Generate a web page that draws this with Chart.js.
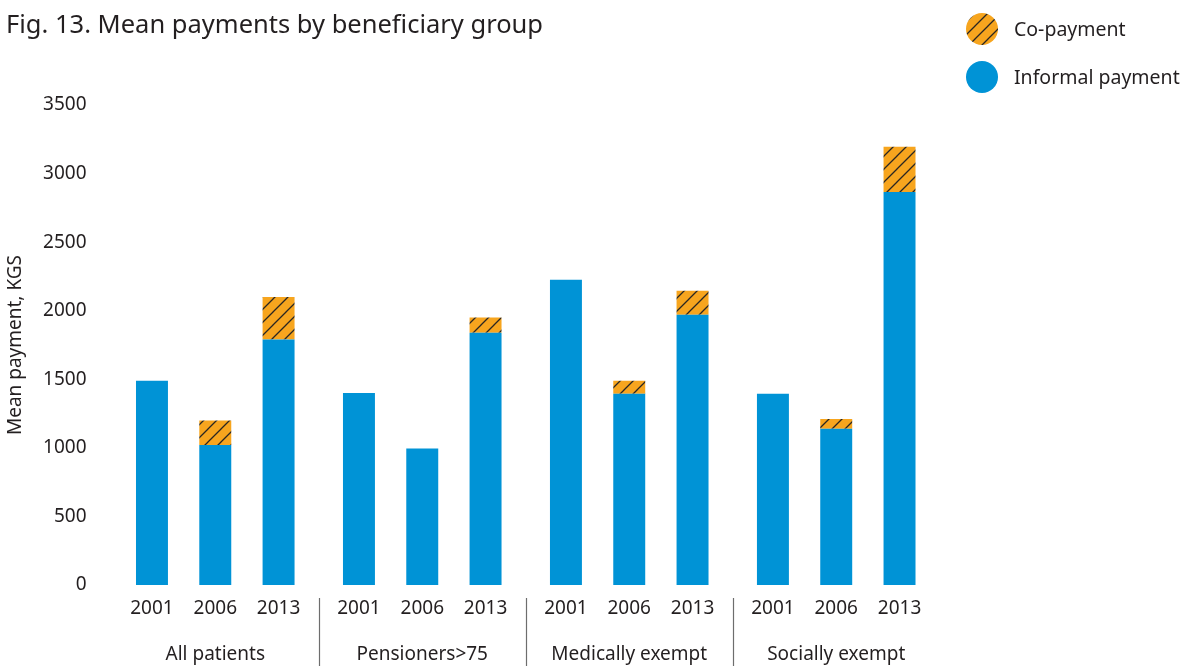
<!DOCTYPE html>
<html>
<head>
<meta charset="utf-8">
<script src="https://cdn.jsdelivr.net/npm/chart.js@4.4.0/dist/chart.umd.min.js"></script>
<style>
  html, body { margin: 0; padding: 0; background: #fff; }
  #wrap { width: 1181px; height: 666px; }
</style>
</head>
<body>
<div id="wrap"><canvas id="pagos"></canvas></div>
<script>
const groups = ["All patients", "Pensioners>75", "Medically exempt", "Socially exempt"];
const years = ["2001", "2006", "2013"];
// KGS, one value per bar (group by group, years in order)
const informal = [1490, 1020, 1790, 1400, 995, 1840, 2225, 1395, 1970, 1395, 1140, 2865];
const copayment = [0, 180, 310, 0, 0, 110, 0, 95, 175, 0, 70, 330];
const yTicks = [0, 500, 1000, 1500, 2000, 2500, 3000, 3500];

const TEXTO = "#231f20";
const FUENTE = '"Noto Sans", "Open Sans", sans-serif';
const AZUL = "#0093d6";
const NARANJA = "#f7a51e";

// groups sit a bit further apart than the bars inside a group
const paso = 3.27;
const posiciones = [];
groups.forEach((g, k) => years.forEach((y, i) => posiciones.push(k * paso + i)));

function rayado() {
  const c = document.createElement("canvas");
  c.width = 13; c.height = 13;
  const t = c.getContext("2d");
  t.fillStyle = NARANJA;
  t.fillRect(0, 0, 13, 13);
  t.strokeStyle = "#2a2622";
  t.lineWidth = 1.3;
  t.beginPath();
  t.moveTo(-2, 15); t.lineTo(15, -2);
  t.moveTo(-2, 2); t.lineTo(2, -2);
  t.moveTo(11, 15); t.lineTo(15, 11);
  t.stroke();
  return t.createPattern(c, "repeat");
}
const patron = rayado();

const grupos = {
  id: "grupos",
  afterDraw(chart) {
    const ctx = chart.ctx;
    const x = chart.scales.x;
    ctx.save();
    ctx.font = "19px " + FUENTE;
    ctx.fillStyle = TEXTO;
    ctx.textAlign = "center";
    ctx.textBaseline = "middle";
    ctx.strokeStyle = "#6d6d6d";
    ctx.lineWidth = 1.2;
    groups.forEach((g, k) => {
      ctx.fillText(g, x.getPixelForValue(k * paso + 1), x.top + 70);
      if (k > 0) {
        const sep = Math.round(x.getPixelForValue(k * paso - (paso - 2) / 2)) + 0.5;
        ctx.beginPath();
        ctx.moveTo(sep, x.top + 13);
        ctx.lineTo(sep, chart.height);
        ctx.stroke();
      }
    });

    // legend, top right
    const items = [["Co-payment", patron], ["Informal payment", AZUL]];
    ctx.textAlign = "left";
    ctx.font = "19.5px " + FUENTE;
    items.forEach(([nombre, relleno], k) => {
      const cy = 29 + k * 48;
      ctx.beginPath();
      ctx.arc(982, cy, 16, 0, Math.PI * 2);
      ctx.fillStyle = relleno;
      ctx.fill();
      ctx.fillStyle = TEXTO;
      ctx.fillText(nombre, 1014, cy + 1);
    });
    ctx.restore();
  }
};

new Chart(document.getElementById("pagos"), {
  type: "bar",
  data: {
    datasets: [
      {
        label: "Informal payment",
        data: informal.map((v, i) => ({ x: posiciones[i], y: v })),
        backgroundColor: AZUL,
        barPercentage: 0.505,
        categoryPercentage: 1
      },
      {
        label: "Co-payment",
        data: copayment.map((v, i) => ({ x: posiciones[i], y: v })),
        backgroundColor: patron,
        barPercentage: 0.505,
        categoryPercentage: 1
      }
    ]
  },
  options: {
    responsive: true,
    maintainAspectRatio: false,
    animation: false,
    layout: { padding: { left: 6, right: 234, top: 0, bottom: 0 } },
    plugins: {
      legend: { display: false },
      tooltip: { enabled: false },
      title: {
        display: true,
        text: "Fig. 13. Mean payments by beneficiary group",
        align: "start",
        color: TEXTO,
        font: { family: FUENTE, size: 25.5, weight: "normal", lineHeight: 1.2 },
        padding: { top: 10, bottom: 64.4 }
      }
    },
    scales: {
      x: {
        type: "linear",
        stacked: true,
        offset: false,
        min: -0.75,
        max: 3 * paso + 2.75,
        grid: { display: false },
        border: { display: false },
        afterBuildTicks: (axis) => { axis.ticks = posiciones.map((v) => ({ value: v })); },
        afterFit: (scale) => {
          scale.height = 81;
          scale.paddingLeft = 0;
          scale.paddingRight = 0;
        },
        ticks: {
          autoSkip: false,
          maxRotation: 0,
          padding: 4,
          color: TEXTO,
          font: { family: FUENTE, size: 19 },
          callback: (v, i) => years[i % 3]
        }
      },
      y: {
        stacked: true,
        min: 0,
        max: 3500,
        grid: { display: false },
        border: { display: false },
        afterBuildTicks: (axis) => { axis.ticks = yTicks.map((v) => ({ value: v })); },
        afterFit: (scale) => { scale.width = 98.5; },
        ticks: {
          padding: 10,
          color: TEXTO,
          font: { family: FUENTE, size: 19 },
          callback: (v) => String(v)
        },
        title: {
          display: true,
          text: "Mean payment, KGS",
          color: TEXTO,
          font: { family: FUENTE, size: 19, lineHeight: 1 },
          padding: 0
        }
      }
    }
  },
  plugins: [grupos]
});
</script>
</body>
</html>
